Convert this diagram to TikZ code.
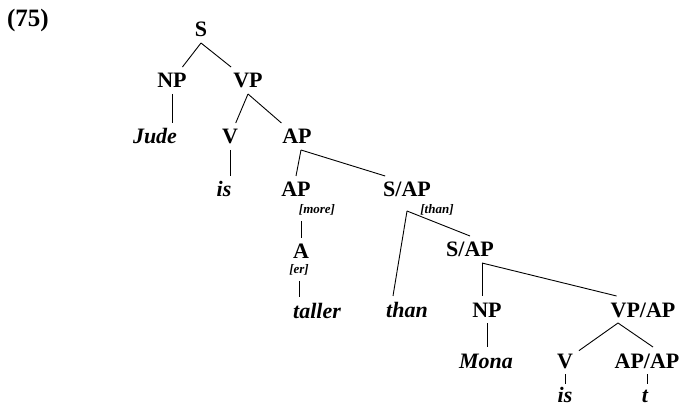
\documentclass[tikz,border=0pt]{standalone}
\usepackage{fontspec}
\setmainfont{Liberation Serif}
\usepackage{tikz}
\tikzstyle{cat} = [rectangle, text centered, inner sep=1pt, outer sep=5pt, text height=15pt, text depth=0pt, font=\fontsize{22}{26}\selectfont\bfseries]
\tikzstyle{word} = [cat, font=\fontsize{22}{26}\selectfont\bfseries\itshape]
\tikzstyle{feat} = [rectangle, text centered, inner sep=0pt, outer sep=4pt, text height=9pt, text depth=3pt, font=\fontsize{13}{15}\selectfont\bfseries\itshape]
\tikzstyle{branch} = [line width=0.9pt]

\begin{document}
\begin{tikzpicture}[node distance=53pt]
  \useasboundingbox (0,0) rectangle (683pt,-406pt);
  \node (num) [cat, font=\fontsize{25}{30}\selectfont\bfseries] at (28pt,-19.5pt) {(75)};

  \node (s) [cat] at (201pt,-29.5pt) {S};
  \node (np) [cat, below of=s, xshift=-29pt, yshift=2pt] {NP};
  \node (vp) [cat, below of=s, xshift=47pt, yshift=2pt] {VP};
  \node (jude) [word, below of=np, xshift=-17pt, yshift=-3pt] {Jude};
  \node (v) [cat, below of=vp, xshift=-18pt, yshift=-3pt] {V};
  \node (ap) [cat, below of=vp, xshift=49pt, yshift=-3pt] {AP};
  \node (is) [word, below of=v, xshift=-6pt] {is};
  \node (aptwo) [cat, below of=ap, xshift=-1pt] {AP};
  \node (sap) [cat, below of=ap, xshift=110pt] {S/AP};
  \node (more) [feat, node distance=21.5pt, below of=aptwo, xshift=21pt] {[more]};
  \node (thanfeat) [feat, node distance=21.5pt, below of=sap, xshift=30pt] {[than]};
  \node (a) [cat, below of=aptwo, xshift=5pt, yshift=-9pt] {A};
  \node (er) [feat, node distance=19.5pt, below of=a, xshift=-2pt] {[er]};
  \node (taller) [word, below of=a, xshift=16pt, yshift=-6pt] {taller};
  \node (thanword) [word, below of=sap, yshift=-67pt] {than};
  \node (saptwo) [cat, below of=sap, xshift=63pt, yshift=-7pt] {S/AP};
  \node (nptwo) [cat, below of=saptwo, xshift=17pt, yshift=-7pt] {NP};
  \node (vpap) [cat, below of=saptwo, xshift=173pt, yshift=-7pt] {VP/AP};
  \node (mona) [word, below of=nptwo, xshift=-1pt, yshift=2pt] {Mona};
  \node (vtwo) [cat, below of=vpap, xshift=-78pt, yshift=2pt] {V};
  \node (apap) [cat, below of=vpap, xshift=4pt, yshift=2pt] {AP/AP};
  \node (istwo) [word, below of=vtwo, yshift=19pt] {is};
  \node (t) [word, below of=apap, xshift=-2pt, yshift=19pt] {t};

  \draw [branch] (s.south) -- (np);
  \draw [branch] (s.south) -- (vp);
  \draw [branch] (np.south) -- (np.south |- jude.north);
  \draw [branch] (vp.south) -- (v);
  \draw [branch] (vp.south) -- (ap);
  \draw [branch] (v.south) -- (v.south |- is.north);
  \draw [branch] ([xshift=4pt]ap.south) -- (aptwo.north);
  \draw [branch] ([xshift=4pt]ap.south) -- ([xshift=8pt]sap.north west);
  \draw [branch] (more.south -| a) -- (a.north);
  \draw [branch] (er.south) -- (er.south |- taller.north);
  \draw [branch] (thanfeat.west -| sap) -- ([xshift=-14pt]thanword.north);
  \draw [branch] (thanfeat.west -| sap) -- (saptwo.north);
  \draw [branch] ([xshift=12pt]saptwo.south) -- ([xshift=-5pt]nptwo.north);
  \draw [branch] ([xshift=12pt]saptwo.south) -- ([xshift=12pt]vpap.north west);
  \draw [branch] (nptwo.south) -- (nptwo.south |- mona.north);
  \draw [branch] ([xshift=-25pt]vpap.south) -- (vtwo);
  \draw [branch] ([xshift=-25pt]vpap.south) -- ([xshift=6pt]apap.north);
  \draw [branch] (vtwo.south) -- ([yshift=-3pt]vtwo.south |- istwo.north);
  \draw [branch] (apap.south) -- ([yshift=-3pt]apap.south |- t.north);
\end{tikzpicture}
\end{document}
